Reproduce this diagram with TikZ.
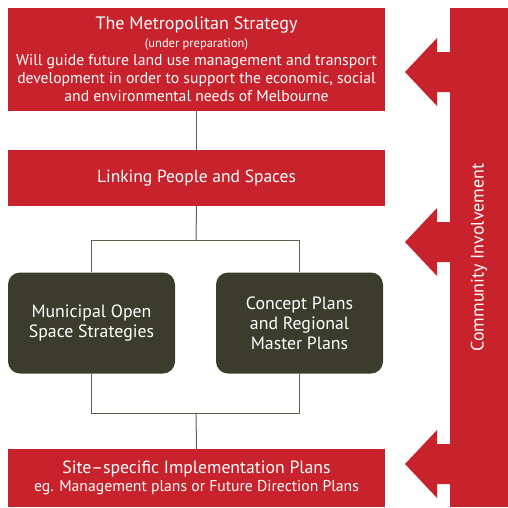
\documentclass[tikz,border=0pt]{standalone}
\usepackage{fontspec}
\setmainfont{PT Sans}
\usepackage{tikz}
\usetikzlibrary{positioning}

\definecolor{strategyred}{RGB}{200,35,44}
\definecolor{plandark}{RGB}{60,60,45}
\definecolor{linkgrey}{RGB}{95,95,80}

\newcommand{\titlesize}{\fontsize{18}{21}\selectfont}
\newcommand{\notesize}{\fontsize{12.5}{17}\selectfont}
\newcommand{\bodysize}{\fontsize{15.7}{18}\selectfont}

\tikzset{
	redbox/.style={fill=strategyred, text=white, align=center, inner sep=0pt, minimum width=377pt},
	darkbox/.style={fill=plandark, text=white, align=center, rounded corners=12pt, inner sep=0pt, minimum width=167pt, minimum height=101pt, font=\fontsize{17.8}{20}\selectfont},
	link/.style={draw=linkgrey, line width=1pt}
}

\begin{document}
\begin{tikzpicture}[x=1pt, y=-1pt]
		\useasboundingbox (0,0) rectangle (508,507);

		% strategy levels
		\node [redbox, minimum height=103pt, font=\bodysize] (metro) at (196.5,59.5) {\titlesize The Metropolitan Strategy\\
			\notesize (under preparation)\\
			Will guide future land use management and transport\\ development in order to support the economic, social\\ and environmental needs of Melbourne};
		\node [redbox, minimum height=56pt, font=\fontsize{17.5}{20}\selectfont] (linking) at (196.5,178) {Linking People and Spaces};
		\node [darkbox] (municipal) at (91.5,323) {Municipal Open\\ Space Strategies};
		\node [darkbox] (concept) at (299.5,323) {Concept Plans\\ and Regional\\ Master Plans};
		\node [redbox, minimum height=58pt, font=\bodysize] (site) at (196.5,478) {\fontsize{17.7}{19}\selectfont Site--specific Implementation Plans\\
			eg. Management plans or Future Direction Plans};

		% connectors and brackets
		\coordinate (split) at (196,240);
		\coordinate (join) at (196,413);
		\draw [link] (metro.south) -- (linking.north);
		\draw [link] (linking.south) -- (split);
		\draw [link] (municipal.north |- split) -- (concept.north |- split);
		\draw [link] (municipal.north |- split) -- (municipal.north);
		\draw [link] (concept.north |- split) -- (concept.north);
		\draw [link] (municipal.south) -- (municipal.south |- join) -- (concept.south |- join) -- (concept.south);
		\draw [link] (join) -- (site.north);

		% community involvement bar and its arrows
		\node [fill=strategyred, text=white, inner sep=0pt, minimum width=499pt, minimum height=58pt, rotate=90, font=\fontsize{18}{20}\selectfont] (community) at (479,257.5) {Community Involvement};
		\foreach \yc in {72,242,464}
			\fill [strategyred] (451,\yc-20) -- (437,\yc-20) -- (437,\yc-34) -- (405,\yc) -- (437,\yc+34) -- (437,\yc+20) -- (451,\yc+20) -- cycle;
	\end{tikzpicture}
\end{document}
